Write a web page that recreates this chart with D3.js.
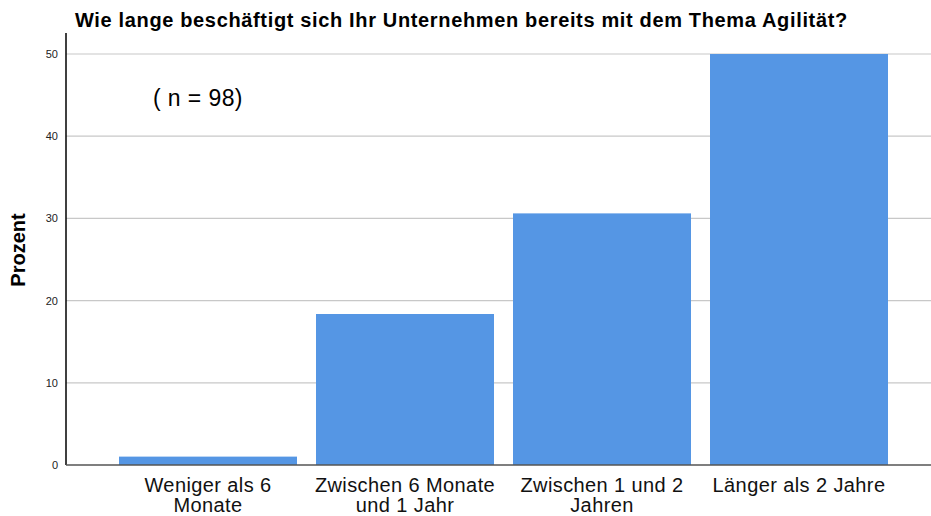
<!DOCTYPE html>
<html><head><meta charset="utf-8">
<script src="https://cdn.jsdelivr.net/npm/d3@7"></script>
<style>body{margin:0;background:#fff}svg{display:block;font-family:"Liberation Sans",Arial,sans-serif}</style>
</head><body>
<svg id="c" width="931" height="516"></svg>
<script>
const categories = [["Weniger als 6","Monate"],["Zwischen 6 Monate","und 1 Jahr"],["Zwischen 1 und 2","Jahren"],["Länger als 2 Jahre"]];
const values = [1.02, 18.37, 30.61, 50.0];
const yTicks = [0, 10, 20, 30, 40, 50];
const title = "Wie lange beschäftigt sich Ihr Unternehmen bereits mit dem Thema Agilität?";
const yLabel = "Prozent";
const note = "( n = 98)";

const svg = d3.select("#c");
const x0 = 66, yBase = 465, yTop = 33, xRight = 931;
const y = d3.scaleLinear().domain([0, 50]).range([yBase, 54]);
const x = d3.scaleBand().domain(d3.range(values.length)).range([109.5, 897.5])
  .paddingInner(19/197).paddingOuter(19/197/2);

// gridlines
svg.append("g").selectAll("line").data(yTicks.filter(d => d > 0)).join("line")
  .attr("x1", x0).attr("x2", xRight).attr("y1", d => y(d)).attr("y2", d => y(d))
  .attr("stroke", "#c8c8c8").attr("stroke-width", 1.2);

// bars
svg.append("g").selectAll("rect").data(values).join("rect")
  .attr("x", (d, i) => x(i)).attr("width", x.bandwidth())
  .attr("y", d => y(d)).attr("height", d => yBase - y(d))
  .attr("fill", "#5596e4");

// y axis
const yAxis = d3.axisLeft(y).tickValues(yTicks).tickSize(0).tickPadding(8);
const gy = svg.append("g").attr("transform", `translate(${x0},0)`).call(yAxis);
gy.select(".domain").remove();
gy.selectAll("text").attr("font-size", 11).attr("fill", "#222").attr("font-family", "Liberation Sans, Arial, sans-serif");
svg.append("line").attr("x1", x0).attr("x2", x0).attr("y1", yTop).attr("y2", yBase).attr("stroke", "#000").attr("stroke-width", 1.5);
svg.append("line").attr("x1", x0).attr("x2", xRight).attr("y1", yBase).attr("y2", yBase).attr("stroke", "#555").attr("stroke-width", 1.5);

// category labels
const lab = svg.append("g").selectAll("text").data(categories).join("text")
  .attr("text-anchor", "middle").attr("font-size", 20).attr("letter-spacing", 0.4).attr("fill", "#111")
  .attr("transform", (d, i) => `translate(${x(i) + x.bandwidth()/2},492)`);
lab.selectAll("tspan").data(d => d).join("tspan")
  .attr("x", 0).attr("dy", (d, j) => j === 0 ? 0 : 20).text(d => d);

// title
svg.append("text").attr("x", 75).attr("y", 27).attr("font-size", 20).attr("font-weight", "bold")
  .attr("letter-spacing", 0.65).attr("fill", "#000").text(title);

// y label
svg.append("text").attr("transform", "translate(25,250) rotate(-90)").attr("text-anchor", "middle")
  .attr("font-size", 20).attr("font-weight", "bold").attr("fill", "#000").text(yLabel);

// note
svg.append("text").attr("x", 153).attr("y", 106).attr("font-size", 23).attr("letter-spacing", 0.4)
  .attr("fill", "#000").text(note);
</script>
</body></html>
